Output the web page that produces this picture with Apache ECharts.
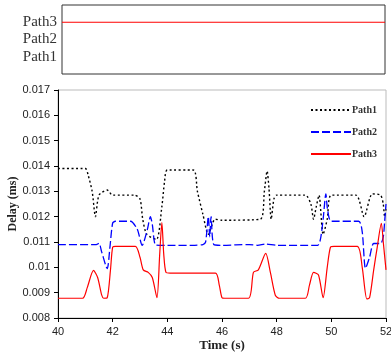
<!DOCTYPE html>
<html>
<head>
<meta charset="utf-8">
<script src="https://cdn.jsdelivr.net/npm/echarts@6/dist/echarts.min.js"></script>
<style>html,body{margin:0;padding:0;background:#fff;}#c{width:391px;height:353px;}</style>
</head>
<body>
<div id="c"></div>
<script>
// Top panel categories (active path)
var pathNames = ['Path1', 'Path2', 'Path3'];
var activePath = 'Path3';
var activeTimes = [40, 52];

// Delay series
var t1 = [40, 41.0, 41.1, 41.25, 41.37, 41.5, 41.8, 42.0, 42.8, 43.0, 43.1, 43.25, 43.6, 43.8, 43.9, 44.0, 44.95, 45.1, 45.3, 45.5, 45.75, 46.0, 47.4, 47.55, 47.65, 47.72, 47.8, 47.9, 48.0, 49.05, 49.25, 49.35, 49.45, 49.55, 49.7, 49.85, 50.0, 50.9, 51.2, 51.5, 51.8, 51.9, 51.95, 52];
var path1 = [0.0139, 0.0139, 0.01365, 0.0130, 0.0120, 0.01285, 0.01305, 0.01285, 0.01285, 0.0127, 0.0119, 0.0113, 0.0111, 0.0124, 0.0134, 0.01384, 0.01384, 0.0130, 0.0121, 0.0113, 0.0119, 0.01186, 0.0119, 0.0130, 0.0138, 0.0131, 0.0119, 0.0127, 0.01285, 0.01285, 0.0125, 0.0119, 0.0124, 0.01285, 0.0113, 0.0119, 0.01285, 0.01285, 0.0120, 0.0129, 0.01285, 0.0125, 0.0120, 0.0123];

var t2 = [40, 41.4, 41.5, 41.6, 41.8, 41.9, 42.0, 42.1, 42.65, 42.9, 43.08, 43.27, 43.38, 43.45, 43.55, 43.7, 44.0, 45.0, 45.3, 45.4, 45.5, 45.55, 45.6, 45.7, 46.0, 47.0, 47.3, 47.6, 48.0, 49.5, 49.6, 49.7, 49.8, 49.86, 50.0, 51.0, 51.13, 51.25, 51.4, 51.55, 51.8, 51.9, 51.95, 52];
var path2 = [0.0109, 0.0109, 0.01095, 0.0106, 0.00995, 0.0108, 0.01175, 0.01182, 0.01182, 0.0115, 0.01087, 0.0115, 0.0120, 0.0117, 0.0109, 0.01087, 0.01087, 0.01087, 0.0109, 0.0110, 0.0120, 0.0112, 0.0120, 0.0109, 0.01087, 0.0109, 0.01087, 0.01092, 0.01087, 0.01087, 0.0111, 0.0119, 0.0129, 0.0123, 0.01182, 0.01182, 0.0114, 0.00996, 0.0104, 0.01094, 0.01094, 0.0112, 0.0118, 0.0125];

var t3 = [40, 40.9, 41.07, 41.3, 41.45, 41.6, 41.67, 41.8, 41.92, 42.0, 42.1, 42.83, 43.0, 43.12, 43.3, 43.45, 43.62, 43.72, 43.8, 43.87, 43.95, 44.1, 45.76, 45.9, 46.0, 46.1, 46.97, 47.15, 47.33, 47.6, 47.77, 47.95, 48.1, 49.05, 49.2, 49.35, 49.53, 49.7, 49.85, 49.97, 50.1, 50.95, 51.13, 51.3, 51.4, 51.55, 51.68, 51.83, 51.9, 52];
var path3 = [0.00878, 0.00878, 0.0092, 0.00988, 0.0096, 0.0089, 0.00878, 0.0088, 0.0099, 0.0108, 0.01083, 0.01083, 0.0104, 0.0099, 0.0098, 0.0096, 0.0088, 0.0105, 0.01177, 0.0105, 0.0098, 0.00977, 0.00977, 0.0093, 0.0088, 0.00878, 0.00878, 0.0098, 0.0099, 0.01055, 0.0098, 0.0089, 0.00878, 0.00878, 0.0093, 0.0098, 0.0097, 0.0088, 0.0100, 0.0108, 0.01083, 0.01083, 0.0100, 0.00875, 0.0088, 0.0099, 0.0108, 0.01174, 0.0110, 0.0099];

function zip(t, v) { return t.map(function (x, i) { return [x, v[i]]; }); }

var chart = echarts.init(document.getElementById('c'), null, { renderer: 'canvas' });
var serif = 'Liberation Serif, Times New Roman, serif';
var sans = 'Liberation Sans, Arial, sans-serif';

chart.setOption({
  animation: false,
  backgroundColor: '#fff',
  grid: [
    { left: 62, right: 6, top: 5, height: 69, show: true, borderColor: '#333', borderWidth: 1, containLabel: false, outerBoundsMode: 'none' },
    { left: 58, right: 5, top: 90, bottom: 35, show: true, borderColor: '#bbb', borderWidth: 1, containLabel: false, outerBoundsMode: 'none' }
  ],
  legend: {
    orient: 'vertical', left: 305, top: 100, itemWidth: 40, itemHeight: 10, itemGap: 12,
    itemStyle: { opacity: 0 },
    textStyle: { fontFamily: serif, fontWeight: 'bold', fontSize: 10, color: '#333', padding: [0, 0, 0, -4] },
    data: ['Path1', 'Path2', 'Path3']
  },
  xAxis: [
    { gridIndex: 0, type: 'value', min: 40, max: 52, show: false },
    {
      gridIndex: 1, type: 'value', min: 40, max: 52, interval: 2,
      name: 'Time (s)', nameLocation: 'middle', nameGap: 21, nameMoveOverlap: false,
      nameTextStyle: { fontFamily: serif, fontWeight: 'bold', fontSize: 13, color: '#222' },
      axisLine: { lineStyle: { color: '#000', width: 1 } },
      axisTick: { show: true, length: 4, inside: false, lineStyle: { color: '#000' } },
      axisLabel: { fontFamily: sans, fontSize: 11, color: '#222', margin: 8 },
      splitLine: { show: false }
    }
  ],
  yAxis: [
    {
      gridIndex: 0, type: 'value', min: 0, max: 4, interval: 1,
      axisLine: { show: false }, axisTick: { show: false }, splitLine: { show: false },
      axisLabel: {
        fontFamily: serif, fontSize: 15, color: '#333', margin: 5,
        formatter: function (v) { return pathNames[v - 1] || ''; }
      }
    },
    {
      gridIndex: 1, type: 'value', min: 0.008, max: 0.017, interval: 0.001,
      name: 'Delay (ms)', nameLocation: 'middle', nameGap: 39, nameRotate: 90, nameMoveOverlap: false,
      nameTextStyle: { fontFamily: serif, fontWeight: 'bold', fontSize: 12, color: '#222' },
      axisLine: { show: true, lineStyle: { color: '#000', width: 1 } },
      axisTick: { show: true, length: 4, inside: false, lineStyle: { color: '#000' } },
      axisLabel: {
        fontFamily: sans, fontSize: 11, color: '#222', margin: 8,
        formatter: function (v) { return String(parseFloat(v.toFixed(3))); }
      },
      splitLine: { show: false }
    }
  ],
  series: [
    {
      name: 'active', type: 'line', xAxisIndex: 0, yAxisIndex: 0, symbol: 'none',
      data: activeTimes.map(function (x) { return [x, pathNames.indexOf(activePath) + 1]; }),
      lineStyle: { color: '#ff0000', width: 1.2 }, silent: true
    },
    {
      name: 'Path1', type: 'line', xAxisIndex: 1, yAxisIndex: 1, symbol: 'none', smooth: 0.25,
      data: zip(t1, path1), color: '#000',
      lineStyle: { color: '#000', width: 1.4, type: [2, 2.5] }
    },
    {
      name: 'Path2', type: 'line', xAxisIndex: 1, yAxisIndex: 1, symbol: 'none', smooth: 0.25,
      data: zip(t2, path2), color: '#0000ff',
      lineStyle: { color: '#0000ff', width: 1.3, type: [8, 3] }
    },
    {
      name: 'Path3', type: 'line', xAxisIndex: 1, yAxisIndex: 1, symbol: 'none', smooth: 0.25,
      data: zip(t3, path3), color: '#ff0000',
      lineStyle: { color: '#ff0000', width: 1.2 }
    }
  ]
});
</script>
</body>
</html>
